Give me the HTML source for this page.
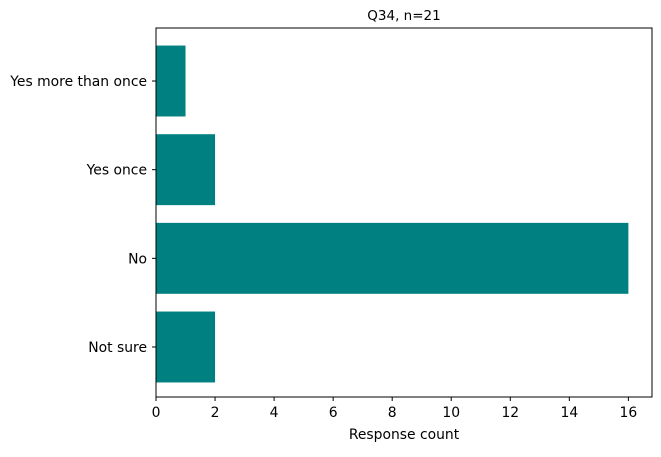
<!DOCTYPE html>
<html><head><meta charset="utf-8"><style>
body{margin:0;background:#fff;font-family:"Liberation Sans","DejaVu Sans",sans-serif;}
</style></head><body>
<svg id="chart" width="661" height="452" xmlns="http://www.w3.org/2000/svg" font-family="'DejaVu Sans','Liberation Sans',sans-serif">
<text x="404" y="20" font-size="13.5" text-anchor="middle">Q34, n=21</text>
<g id="bars"></g>
<g id="xticks"></g>
<g id="yticks"></g>
<rect x="156" y="28" width="496" height="369" fill="none" stroke="#000" stroke-width="1"/>
<text x="404" y="439" font-size="13.9" text-anchor="middle">Response count</text>
</svg>
<script>
const categories = ["Not sure","No","Yes once","Yes more than once"];
const counts = [2,16,2,1];
const xTickValues = [0,2,4,6,8,10,12,14,16];
const ns="http://www.w3.org/2000/svg";
const L=156,R=652,T=28,B=397,xmax=16.8;
const ymin=-0.564,ymax=3.598;
function xs(v){return L+(v/xmax)*(R-L);}
function ys(v){return B-(v-ymin)/(ymax-ymin)*(B-T);}
const bh=0.8*(B-T)/(ymax-ymin);
const bars=document.getElementById('bars');
categories.forEach((c,i)=>{
  const r=document.createElementNS(ns,'rect');
  r.setAttribute('x',xs(0));r.setAttribute('y',ys(i)-bh/2);
  r.setAttribute('width',xs(counts[i])-xs(0));r.setAttribute('height',bh);
  r.setAttribute('fill','#008080');
  
  
  bars.appendChild(r);
  const t=document.createElementNS(ns,'text');
  t.setAttribute('x',147);t.setAttribute('y',ys(i)+5);
  t.setAttribute('font-size','13.9');t.setAttribute('text-anchor','end');
  t.textContent=c;
  
  
  document.getElementById('yticks').appendChild(t);
  const l=document.createElementNS(ns,'line');
  l.setAttribute('x1',152);l.setAttribute('x2',156);l.setAttribute('y1',ys(i));l.setAttribute('y2',ys(i));
  l.setAttribute('stroke','#000');
  
  
  document.getElementById('yticks').appendChild(l);
});
xTickValues.forEach(v=>{
  const g=document.getElementById('xticks');
  const l=document.createElementNS(ns,'line');
  l.setAttribute('x1',xs(v));l.setAttribute('x2',xs(v));l.setAttribute('y1',397);l.setAttribute('y2',401);
  l.setAttribute('stroke','#000');
  
  
  g.appendChild(l);
  const t=document.createElementNS(ns,'text');
  t.setAttribute('x',xs(v));t.setAttribute('y',417);
  t.setAttribute('font-size','13.9');t.setAttribute('text-anchor','middle');
  t.textContent=v;
  
  
  g.appendChild(t);
});
</script>
</body></html>
